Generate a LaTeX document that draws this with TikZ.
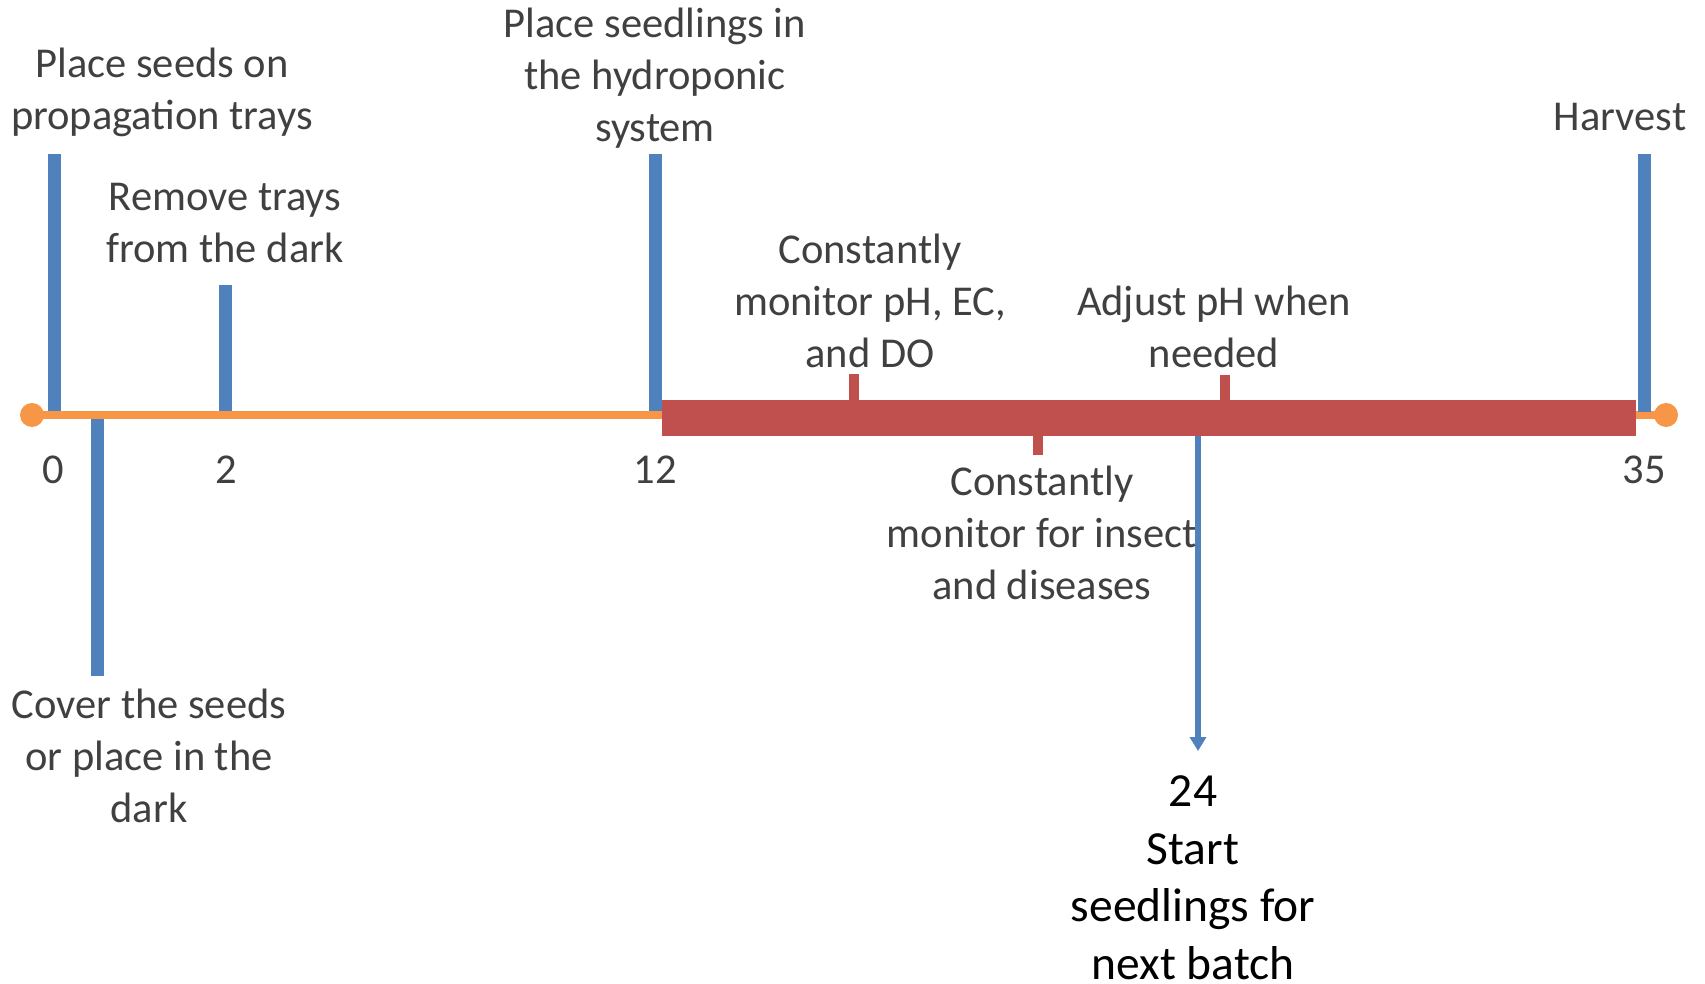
\documentclass[tikz,border=0pt]{standalone}
\usepackage{fontspec}
\setmainfont{Carlito}
\usetikzlibrary{arrows.meta}
\definecolor{tblue}{HTML}{4F81BD}
\definecolor{torange}{HTML}{F79646}
\definecolor{tred}{HTML}{C0504D}
\definecolor{tgray}{HTML}{404040}
\tikzset{
  bluebar/.style={draw=tblue,line width=13pt},
  redtick/.style={draw=tred,line width=10pt},
  lbl/.style={text=tgray,align=center,inner sep=0pt,font=\fontsize{42.5}{52}\selectfont},
  num/.style={text=tgray,inner sep=0pt,font=\fontsize{42.5}{48}\selectfont},
  blk/.style={text=black,align=center,inner sep=0pt,font=\fontsize{47.5}{57.5}\selectfont},
  dot/.style={circle,fill=torange,minimum size=24pt,inner sep=0pt}
}
\begin{document}
\begin{tikzpicture}[x=1pt,y=-1pt]
\useasboundingbox (0,0) rectangle (1705,984);
% timeline
\node[dot] (start) at (32,415) {};
\node[dot] (end) at (1666,415) {};
\draw[torange,line width=8pt] (start.center) -- (end.center);
% red bar
\coordinate (rl) at (662,418);
\coordinate (rr) at (1636,418);
\draw[tred,line width=36pt] (rl) -- (rr);
% red ticks
\coordinate (t1a) at (854,374); \coordinate (t1b) at (854,402);
\coordinate (t2a) at (1225,375); \coordinate (t2b) at (1225,402);
\coordinate (t3a) at (1038,434); \coordinate (t3b) at (1038,455);
\draw[redtick] (t1a) -- (t1b);
\draw[redtick] (t2a) -- (t2b);
\draw[redtick] (t3a) -- (t3b);
% blue bars
\coordinate (b0t) at (54,154); \coordinate (b0b) at (54,411);
\coordinate (bct) at (97,419); \coordinate (bcb) at (97,676);
\coordinate (b2t) at (225.5,285); \coordinate (b2b) at (225.5,411);
\coordinate (b12t) at (655.5,154); \coordinate (b12b) at (655.5,411);
\coordinate (b35t) at (1644,154); \coordinate (b35b) at (1644,412);
\draw[bluebar] (b0t) -- (b0b);
\draw[bluebar] (bct) -- (bcb);
\draw[bluebar] (b2t) -- (b2b);
\draw[bluebar] (b12t) -- (b12b);
\draw[bluebar] (b35t) -- (b35b);
% arrow
\coordinate (as) at (1198,436);
\coordinate (ae) at (1198,751);
\draw[tblue,line width=5.5pt,-{Triangle[width=16pt,length=14pt]}] (as) -- (ae);
% numbers
\node[num] (n0) at (53,470) {0};
\node[num] (n2) at (226,470) {2};
\node[num] (n12) at (655,470) {12};
\node[num] (n35) at (1644,470) {35};
% labels
\node[lbl] (l0) at (162,92) {Place seeds on\\propagation trays};
\node[lbl] (l2) at (225,223) {Remove trays\\from the dark};
\node[lbl] (l12) at (655,78) {Place seedlings in\\the hydroponic\\system};
\node[lbl] (l35) at (1620,117) {Harvest};
\node[lbl] (lph) at (870,301) {Constantly\\monitor pH, EC,\\and DO};
\node[lbl] (ladj) at (1214,327) {Adjust pH when\\needed};
\node[lbl] (lins) at (1042,533) {Constantly\\monitor for insect\\and diseases};
\node[lbl] (lcov) at (149,756) {Cover the seeds\\or place in the\\dark};
\node[blk] (l24) at (1193,878) {24\\Start\\seedlings for\\next batch};
\end{tikzpicture}
\end{document}
